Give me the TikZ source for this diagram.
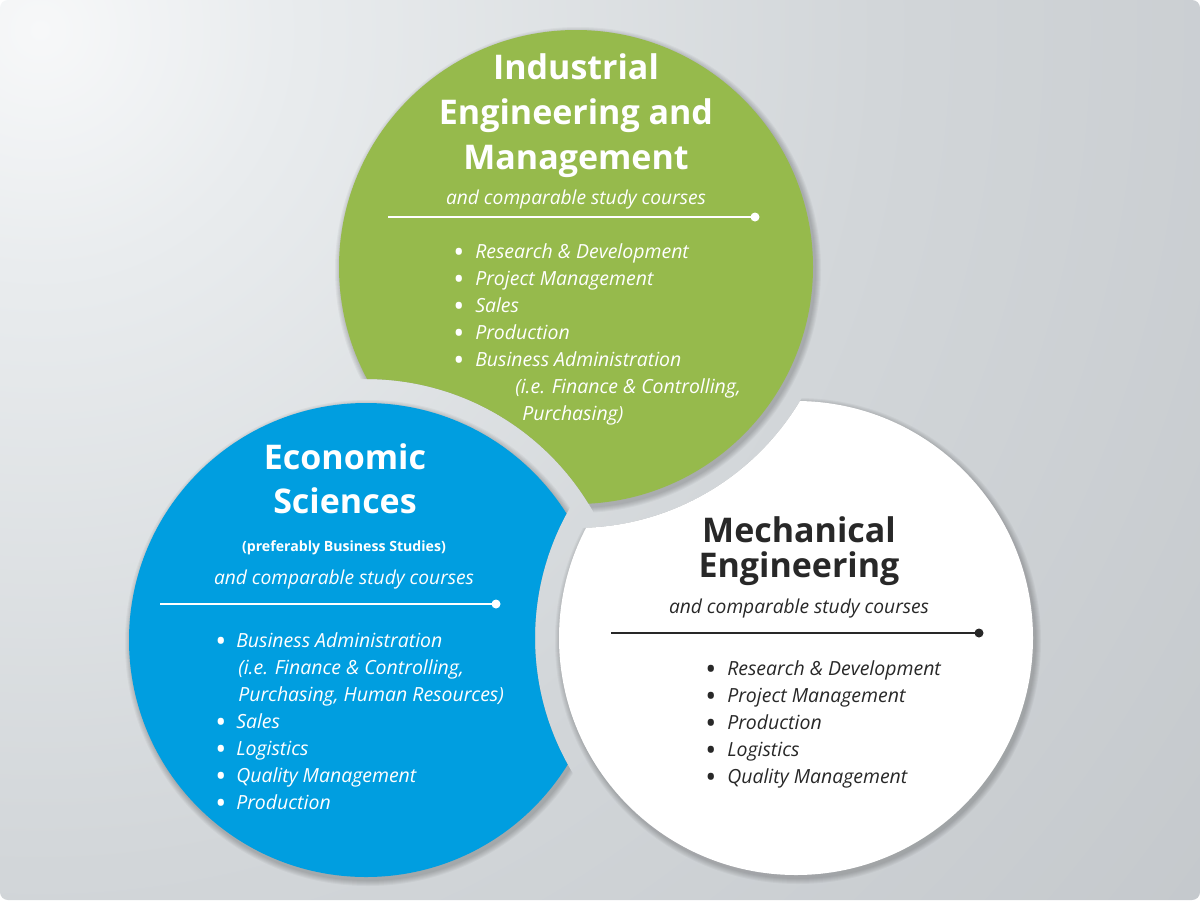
\documentclass[tikz,border=0pt]{standalone}
\usepackage{fontspec}
\setmainfont{Open Sans}
\definecolor{grn}{RGB}{150,186,76}
\definecolor{blu}{RGB}{0,158,224}
\definecolor{dark}{RGB}{40,40,40}
\definecolor{bgA}{RGB}{247,248,249}
\definecolor{bgB}{RGB}{233,236,238}
\definecolor{bgC}{RGB}{210,214,217}
\definecolor{bgD}{RGB}{192,196,200}
\definecolor{bgE}{RGB}{174,178,183}
\pgfdeclareradialshading{bgshade}{\pgfpoint{0bp}{0bp}}{color(0bp)=(bgA); color(4bp)=(bgB); color(14bp)=(bgC); color(28bp)=(bgD); color(50bp)=(bgE)}
\newcommand{\shadowof}[2]{%
  \foreach \k in {1,...,6}{\fill[black,opacity=0.035] (#1) ++(2,3) circle [radius=#2+\k];}}
% clip to everything outside the gap ring of circle #1
% (rectangle drawn against the circle's sense, so both fill rules leave the hole)
\newcommand{\cutby}[1]{\clip (#1) circle [radius=261] (-20,-20) -- (-20,920) -- (1220,920) -- (1220,-20) -- cycle;}
\tikzset{
  every node/.style={inner sep=0pt},
  title/.style={font=\fontsize{25.5}{30}\selectfont\bfseries, anchor=base},
  sub/.style={font=\fontsize{14.4}{17}\selectfont\itshape, anchor=base},
  item/.style={font=\fontsize{14.6}{17}\selectfont\itshape, anchor=base west},
  bul/.style={font=\fontsize{22}{17}\selectfont, anchor=base},
  rule/.style={line width=1.6pt},
}
\begin{document}
\begin{tikzpicture}[x=0.75pt,y=-0.75pt]
\useasboundingbox (0,0) rectangle (1200,900);
\fill[white] (0,0) rectangle (1200,900);
\begin{scope}
  \clip[rounded corners=6] (0,0) rectangle (1200,900);
  \shade[shading=bgshade] (40,30) circle [radius=1500];
\end{scope}
\coordinate (G) at (576,267);
\coordinate (B) at (366,640);
\coordinate (W) at (796,638);
% green circle, cut by the blue one
\begin{scope}[even odd rule]
  \cutby{B}
  \shadowof{G}{237}
  \fill[grn] (G) circle [radius=237];
\end{scope}
% blue circle, cut by the white one
\begin{scope}[even odd rule]
  \cutby{W}
  \shadowof{B}{237}
  \fill[blu] (B) circle [radius=237];
\end{scope}
% white circle, cut by the green one
\begin{scope}[even odd rule]
  \cutby{G}
  \shadowof{W}{237}
  \fill[white] (W) circle [radius=237];
\end{scope}

% ---- green texts
\node[title,white] (g1) at (576,79) {Industrial};
\node[title,white] (g2) at (576,124) {Engineering and};
\node[title,white] (g3) at (576,169) {Management};
\node[sub,white] (gs) at (576,204) {and comparable study courses};
\coordinate (gl1) at (388,217);
\coordinate (gl2) at (755,217);
\draw[rule,white] (gl1) -- (gl2);
\fill[white] (gl2) circle [radius=4.5];
\foreach \t [count=\i from 0] in {Research \& Development,Project Management,Sales,Production,Business Administration}{
  \node[bul,white] (gb\i) at (459,262+27*\i) {•};
  \node[item,white] (gi\i) at (475,258+27*\i) {\t};
}
\node[item,white] (gi5) at (515,393) {(i.e. Finance \& Controlling,};
\node[item,white] (gi6) at (522,420) {Purchasing)};

% ---- blue texts
\node[title,white] (b1) at (345,469) {Economic};
\node[title,white] (b2) at (345,513) {Sciences};
\node[font=\fontsize{10.6}{13}\selectfont\bfseries,anchor=base,white] (bp) at (344,551) {(preferably Business Studies)};
\node[sub,white] (bs) at (344,584) {and comparable study courses};
\coordinate (bl1) at (160,604);
\coordinate (bl2) at (496,604);
\draw[rule,white] (bl1) -- (bl2);
\fill[white] (bl2) circle [radius=4.5];
\node[bul,white] (bb0) at (221,651) {•};
\node[item,white] (bi0) at (236,647) {Business Administration};
\node[item,white] (bi1) at (238,674) {(i.e. Finance \& Controlling,};
\node[item,white] (bi2) at (238,701) {Purchasing, Human Resources)};
\foreach \t [count=\i from 3] in {Sales,Logistics,Quality Management,Production}{
  \node[bul,white] (bb\i) at (221,651+27*\i) {•};
  \node[item,white] (bi\i) at (236,647+27*\i) {\t};
}

% ---- white texts
\node[title,dark] (w1) at (799,542) {Mechanical};
\node[title,dark] (w2) at (799,577) {Engineering};
\node[sub,dark] (ws) at (799,613) {and comparable study courses};
\coordinate (wl1) at (611,633);
\coordinate (wl2) at (979,633);
\draw[rule,dark] (wl1) -- (wl2);
\fill[dark] (wl2) circle [radius=4.5];
\foreach \t [count=\i from 0] in {Research \& Development,Project Management,Production,Logistics,Quality Management}{
  \node[bul,dark] (wb\i) at (711,679+27*\i) {•};
  \node[item,dark] (wi\i) at (727,675+27*\i) {\t};
}
\end{tikzpicture}
\end{document}
